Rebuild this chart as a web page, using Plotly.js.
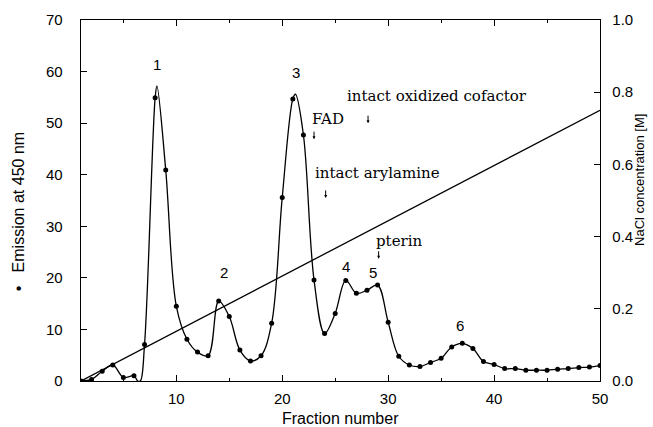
<!DOCTYPE html>
<html>
<head>
<meta charset="utf-8">
<script src="https://cdn.plot.ly/plotly-3.0.1.min.js"></script>
<style>html,body{margin:0;padding:0;background:#fff;}#chart{width:653px;height:427px;}</style>
</head>
<body>
<div id="chart"></div>
<script>
// Measured fractions and emission at 450 nm (dots)
const fraction = [1,2,3,4,5,6,7,8,9,10,11,12,13,14,15,16,17,18,19,20,21,22,23,24,25,26,27,28,29,30,31,32,33,34,35,36,37,38,39,40,41,42,43,44,45,46,47,48,49,50];
const emission = [0,0.3,1.9,3.1,0.7,1.0,7.1,54.9,40.9,14.5,8.1,5.6,4.9,15.5,12.5,6.0,3.9,4.9,11.2,35.6,54.7,47.7,19.6,9.2,13.1,19.5,17.0,17.6,18.6,11.4,4.8,3.1,2.8,3.6,4.4,6.6,7.3,6.3,3.8,3.2,2.4,2.4,2.1,2.1,2.1,2.3,2.4,2.6,2.7,3.0];

// Extra points (peak tops, baseline segment)
const curveExtraX = [6.35, 6.6, 8.17, 21.25];
const curveExtraY = [0, 0, 57.2, 55.6];

// NaCl gradient (M)
const naclFraction = [1, 50];
const naclConc = [0, 0.75];

// Peak labels
const peakLabels = ["1","2","3","4","5","6"];
const peakX = [8.2,14.5,21.3,26.0,28.6,36.8];
const peakY = [61.3,21.1,59.9,22.3,21.1,10.7];

// Compound labels with arrows
const compLabels = ["intact oxidized cofactor","FAD","intact arylamine","pterin"];
const compTextX = [25.9,22.6,22.9,28.7];
const compTextY = [55.3,50.8,40.3,27.1];
const arrowX = [28.1,23.0,24.1,29.1];
const arrowY = [50.0,46.9,35.5,23.7];

// Axis titles
const xTitle = 'Fraction number';
const yTitle = '•   Emission at 450 nm';
const y2Title = 'NaCl concentration [M]';

// merge measured and curve points for the smooth line
const curvePts = fraction.map((f,i)=>[f, emission[i]]).concat(curveExtraX.map((f,i)=>[f, curveExtraY[i]]));
curvePts.sort((a,b)=>a[0]-b[0]);

const traces = [
  {x: curvePts.map(p=>p[0]), y: curvePts.map(p=>p[1]), mode: 'lines', type: 'scatter',
   line: {shape: 'spline', smoothing: 1.0, color: '#000', width: 1.3}, showlegend: false},
  {x: fraction, y: emission, mode: 'markers', type: 'scatter',
   marker: {color: '#000', size: 5}, showlegend: false},
  {x: naclFraction, y: naclConc, mode: 'lines', type: 'scatter', yaxis: 'y2',
   line: {color: '#000', width: 1.3}, showlegend: false}
];

const sans = 'Liberation Sans, Arial, sans-serif';
const annotations = [];
peakLabels.forEach((t,i)=>annotations.push({x: peakX[i], y: peakY[i], text: t, showarrow: false,
  font: {family: sans, size: 15, color: '#000'}}));
compLabels.forEach((t,i)=>{
  annotations.push({x: compTextX[i], y: compTextY[i], text: t, showarrow: false, xanchor: 'left',
    font: {family: 'DejaVu Serif, serif', size: 15, color: '#000'}});
  annotations.push({x: arrowX[i], y: arrowY[i], text: '', showarrow: true, ax: 0, ay: -9,
    arrowhead: 2, arrowsize: 0.6, arrowwidth: 1, arrowcolor: '#000'});
});
// axis titles placed in paper coordinates
annotations.push({xref: 'paper', yref: 'paper', x: 0.5, y: -0.1025, xanchor: 'center', yanchor: 'middle',
  text: xTitle, showarrow: false, font: {family: sans, size: 16, color: '#000'}});
annotations.push({xref: 'paper', yref: 'paper', x: -0.1214, y: 0.47, xanchor: 'center', yanchor: 'middle',
  text: yTitle, showarrow: false, textangle: -90, font: {family: sans, size: 16, color: '#000'}});
annotations.push({xref: 'paper', yref: 'paper', x: 1.077, y: 0.557, xanchor: 'center', yanchor: 'middle',
  text: y2Title, showarrow: false, textangle: -90, font: {family: sans, size: 13, color: '#000'}});

const tickFont = {family: sans, size: 15, color: '#000'};
const layout = {
  width: 653, height: 427,
  margin: {l: 81, r: 53, t: 20, b: 46},
  paper_bgcolor: '#fff', plot_bgcolor: '#fff',
  xaxis: {range: [1, 50], tickvals: [10,20,30,40,50], ticks: 'inside', ticklen: 6, tickcolor: '#000',
    showline: true, linecolor: '#000', linewidth: 1.3, mirror: 'ticks', showgrid: false, zeroline: false,
    tickfont: tickFont, ticklabelstandoff: 4,
    minor: {tickvals: [5,15,25,35,45], ticks: 'inside', ticklen: 3, tickcolor: '#000', showgrid: false}},
  yaxis: {range: [0, 70], tickvals: [0,10,20,30,40,50,60,70], ticks: 'inside', ticklen: 6, tickcolor: '#000',
    showline: true, linecolor: '#000', linewidth: 1.3, showgrid: false, zeroline: false,
    tickfont: tickFont, ticklabelstandoff: 14},
  yaxis2: {range: [0, 1.0], overlaying: 'y', side: 'right', tickvals: [0,0.2,0.4,0.6,0.8,1.0],
    ticktext: ['0.0','0.2','0.4','0.6','0.8','1.0'],
    ticks: 'inside', ticklen: 6, tickcolor: '#000', showline: true, linecolor: '#000', linewidth: 1.3,
    showgrid: false, zeroline: false, tickfont: tickFont, ticklabelstandoff: 8},
  annotations: annotations
};
Plotly.newPlot('chart', traces, layout, {displayModeBar: false, staticPlot: true});
</script>
</body>
</html>
